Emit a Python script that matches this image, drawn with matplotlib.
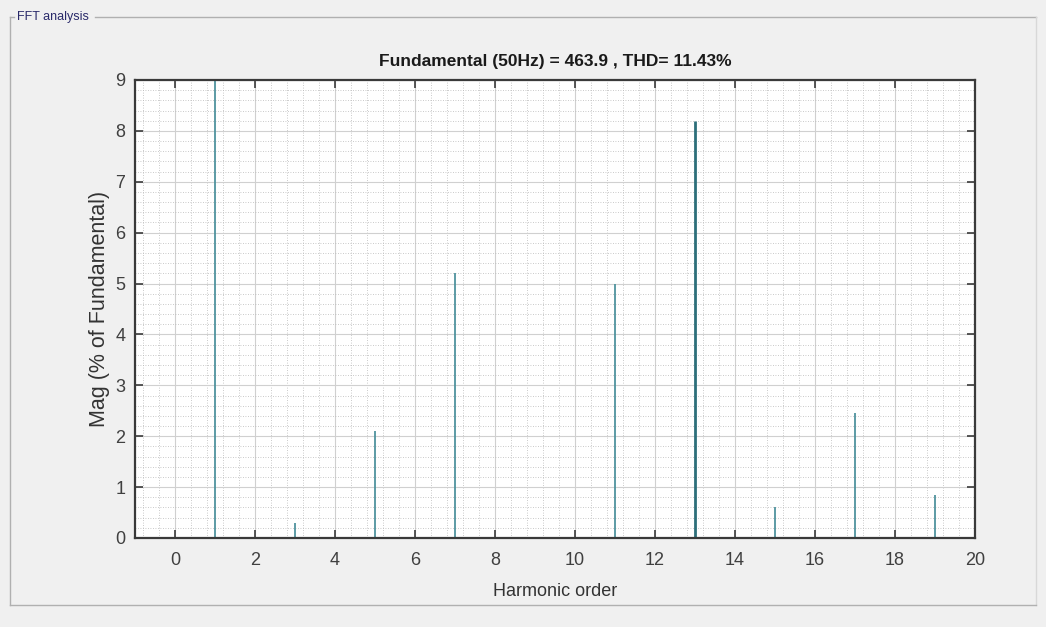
import matplotlib
matplotlib.use("Agg")
import matplotlib.pyplot as plt
from matplotlib.ticker import MultipleLocator
from matplotlib.lines import Line2D

harmonics = [1, 3, 5, 7, 11, 13, 15, 17, 19]
magnitudes = [100.0, 0.3, 2.1, 5.2, 5.0, 8.2, 0.6, 2.45, 0.85]
title = "Fundamental (50Hz) = 463.9 , THD= 11.43%"
xticks = list(range(0, 21, 2))
yticks = list(range(0, 10))

narrow = ['Liberation Sans', 'DejaVu Sans']
wide = ['Liberation Sans', 'DejaVu Sans']

fig = plt.figure(figsize=(10.46, 6.27), dpi=100)
fig.patch.set_facecolor('#f0f0f0')

# panel border
fig.add_artist(Line2D([10/1046, 10/1046], [1-17/627, 1-605/627], color='#b0b0b0', lw=1))
fig.add_artist(Line2D([10/1046, 14/1046], [1-17/627, 1-17/627], color='#b0b0b0', lw=1))
fig.add_artist(Line2D([95/1046, 1036/1046], [1-17/627, 1-17/627], color='#b0b0b0', lw=1))
fig.add_artist(Line2D([1036/1046, 1036/1046], [1-17/627, 1-605/627], color='#d8d8d8', lw=1))
fig.add_artist(Line2D([10/1046, 1036/1046], [1-605/627, 1-605/627], color='#b0b0b0', lw=1))
fig.text(17/1046, 1-17/627, "FFT analysis", color='#2a2a6a', fontsize=9,
         family=narrow, va='center', ha='left')

ax = fig.add_axes([135/1046, 1-538/627, 840/1046, 458/627])
ax.set_facecolor('white')
lws = [2.0 if h == 13 else 1.3 for h in harmonics]
cols = ['#2d6f7a' if h == 13 else '#4f939e' for h in harmonics]
ax.vlines(harmonics, 0, magnitudes, colors=cols, linewidths=lws, zorder=3)

ax.set_xlim(-1, 20)
ax.set_ylim(0, 9)
ax.set_xticks(xticks)
ax.set_yticks(yticks)
ax.xaxis.set_minor_locator(MultipleLocator(0.4))
ax.yaxis.set_minor_locator(MultipleLocator(0.2))
ax.grid(which='major', color='#d0d0d0', lw=0.8, zorder=0)
ax.grid(which='minor', color='#b8b8b8', lw=0.6, ls=(0, (1, 2)), zorder=0)
ax.set_axisbelow(True)

for s in ax.spines.values():
    s.set_color('#3a3a3a')
    s.set_linewidth(1.6)
    s.set_zorder(4)

ax.tick_params(which='major', direction='in', length=6, width=1.2, top=True, right=True,
               colors='#3a3a3a', labelsize=13)
ax.tick_params(axis='x', which='major', pad=10)
ax.tick_params(axis='y', which='major', pad=7)
ax.tick_params(which='minor', length=0)
for lab in ax.get_xticklabels() + ax.get_yticklabels():
    lab.set_family(narrow)
    lab.set_color('#404040')

ax.set_title(title, fontsize=12.5, fontweight='bold', family=narrow, color='#1a1a1a', pad=10)
ax.set_xlabel("Harmonic order", fontsize=13, family=narrow, color='#333333', labelpad=10)
ax.set_ylabel("Mag (% of Fundamental)", fontsize=15.5, family=wide, color='#333333', labelpad=4)

fig.savefig("out.png", dpi=100, facecolor=fig.get_facecolor())
